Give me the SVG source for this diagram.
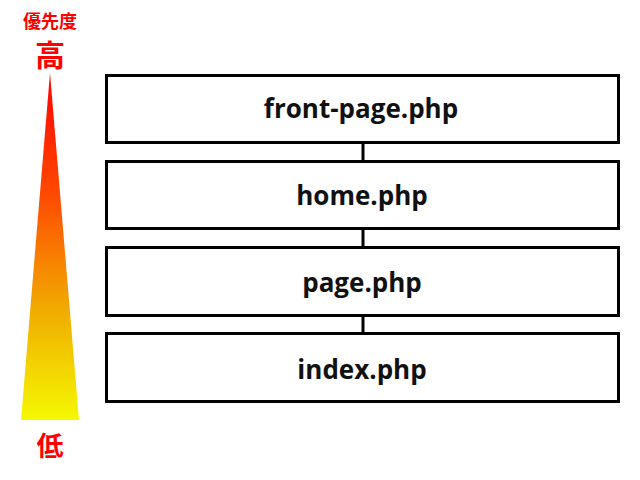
<svg xmlns="http://www.w3.org/2000/svg" width="640" height="480" viewBox="0 0 640 480">
<style>
.box{fill:#fff;stroke:#000;stroke-width:3}
.lbl{font-family:"Open Sans","DejaVu Sans",sans-serif;font-weight:bold;font-size:26px;fill:#111;text-anchor:middle}
.jp{font-family:"Noto Sans CJK JP",sans-serif;font-weight:bold;fill:#f00;text-anchor:middle}
.conn{stroke:#000;stroke-width:3}
</style>
<defs>
<linearGradient id="g" x1="0" y1="0" x2="0" y2="1">
<stop offset="0" stop-color="#ff0000"/>
<stop offset="0.35" stop-color="#ff4a00"/>
<stop offset="0.7" stop-color="#f0b000"/>
<stop offset="1" stop-color="#f5f800"/>
</linearGradient>
</defs>
<rect width="640" height="480" fill="#fff"/>
<polygon points="50,73 21,420 79,420" fill="url(#g)"/>
<text class="jp" x="50" y="28" font-size="18">優先度</text>
<text class="jp" x="50" y="66" font-size="30">高</text>
<text class="jp" x="50" y="456" font-size="27">低</text>
<g id="connectors">
<line class="conn" x1="363" y1="144" x2="363" y2="160"/>
<line class="conn" x1="363" y1="230" x2="363" y2="246"/>
<line class="conn" x1="363" y1="317" x2="363" y2="332"/>
</g>
<g id="node1"><rect class="box" x="106.5" y="75.5" width="512" height="67"/><text class="lbl" x="361" y="118">front-page.php</text></g>
<g id="node2"><rect class="box" x="106.5" y="161.5" width="512" height="67"/><text class="lbl" x="362" y="205">home.php</text></g>
<g id="node3"><rect class="box" x="106.5" y="247.5" width="512" height="68"/><text class="lbl" x="362" y="292">page.php</text></g>
<g id="node4"><rect class="box" x="106.5" y="333.5" width="512" height="68"/><text class="lbl" x="362" y="379">index.php</text></g>
</svg>
